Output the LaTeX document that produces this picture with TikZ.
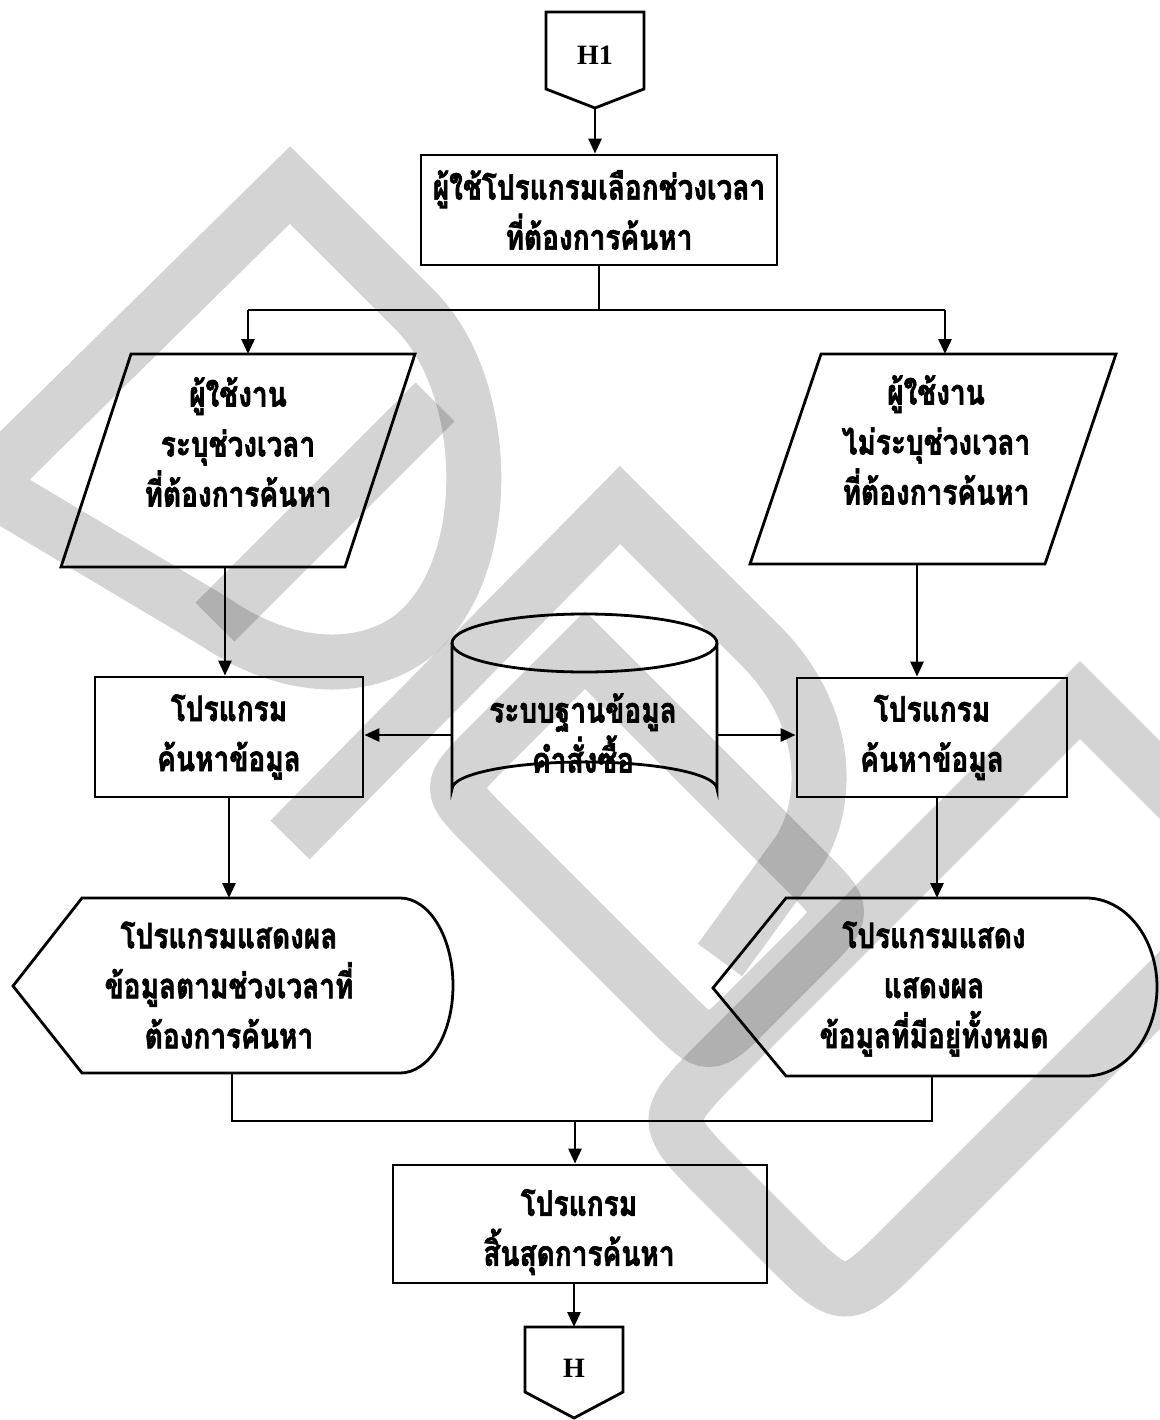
\documentclass[tikz,border=0pt]{standalone}
\usepackage{fontspec}
\setmainfont{Liberation Serif}
\newfontfamily\thai[Script=Thai, FakeStretch=0.8, BoldFeatures={FakeBold=1.8}]{Loma}
\usetikzlibrary{arrows.meta,calc}

\begin{document}
\begin{tikzpicture}[x=1pt,y=-1pt,
  line width=2.8pt,
  flow/.style={-{Triangle[length=15pt,width=13pt]}},
  txt/.style={font=\thai\bfseries\fontsize{35}{50}\selectfont, align=center, inner sep=0pt},
  boxed/.style={draw, rectangle, inner sep=0pt},
  wm/.style={line width=55pt, draw=black, draw opacity=0.17, line join=miter, line cap=butt}
]
\useasboundingbox (0,0) rectangle (1159,1420);

% ---- gray background bands ----
\draw[wm] (-15,485) -- (290,185) -- (415,310)
  .. controls (490,385) and (495,560) .. (420,630)
  .. controls (380,668) and (300,680) .. (215,622) -- cycle;
\draw[wm] (215,622) -- (435,402);
\draw[wm] (290,840) -- (620,505) -- (760,645)
  .. controls (830,715) and (830,800) .. (800,850) -- (720,960);
\draw[wm] (585,650) -- (805,870) .. controls (847,912) .. (805,954)
  -- (751,1008) .. controls (709,1050) .. (667,1008)
  -- (489,830) .. controls (447,788) .. (489,746) -- cycle;
\draw[wm] (1215,835) -- (1080,700) -- (724,1056) .. controls (660,1120) .. (724,1184)
  -- (781,1241) .. controls (845,1305) .. (909,1241) -- (1215,935);

% ---- off-page connector H1 ----
\draw (546,12) -- (644,12) -- (644,89) -- (595,108) -- (546,89) -- cycle;
\node[font=\bfseries\fontsize{28}{30}\selectfont] (h1) at (595,55) {H1};
\coordinate (h1tip) at (595,108);

% ---- first process ----
\node[boxed, minimum width=356pt, minimum height=110pt] (pick) at (599,210) {};
\node[txt] at (pick.center) {ผู้ใช้โปรแกรมเลือกช่วงเวลา\\ที่ต้องการค้นหา};

% ---- input parallelograms ----
\draw (131,354) -- (415,354) -- (345,567) -- (61,567) -- cycle;
\node[txt] (inL) at (238,442) {ผู้ใช้งาน\\ระบุช่วงเวลา\\ที่ต้องการค้นหา};
\coordinate (inLtop) at (248,354);
\coordinate (inLbot) at (225,567);

\draw (821,354) -- (1116,354) -- (1045,564) -- (750,564) -- cycle;
\node[txt] (inR) at (936,440) {ผู้ใช้งาน\\ไม่ระบุช่วงเวลา\\ที่ต้องการค้นหา};
\coordinate (inRtop) at (945,354);
\coordinate (inRbot) at (917,564);

% ---- search processes ----
\node[boxed, minimum width=268pt, minimum height=120pt] (srchL) at (229,737) {};
\node[txt] at (srchL.center) {โปรแกรม\\ค้นหาข้อมูล};
\node[boxed, minimum width=270pt, minimum height=119pt] (srchR) at (932,737.5) {};
\node[txt] at (srchR.center) {โปรแกรม\\ค้นหาข้อมูล};

% ---- database cylinder ----
\draw (452,643) -- (452,789) arc[start angle=180,end angle=360,x radius=132.5,y radius=27] -- (717,643);
\draw (584.5,643) ellipse[x radius=132.5,y radius=29];
\node[minimum width=265pt, minimum height=150pt, inner sep=0pt] (db) at (584.5,733) {};
\node[txt] at (583,733) {ระบบฐานข้อมูล\\คำสั่งซื้อ};

% ---- display shapes ----
\draw (82,898) -- (400,898) arc[start angle=-90,end angle=90,x radius=53,y radius=87.5] -- (82,1073) -- (13,986) -- cycle;
\node[txt] (outL) at (229,985) {โปรแกรมแสดงผล\\ข้อมูลตามช่วงเวลาที่\\ต้องการค้นหา};
\coordinate (outLtop) at (229,898);
\coordinate (outLbot) at (232,1073);

\draw (786,898) -- (1086,898) arc[start angle=-90,end angle=90,x radius=71,y radius=89] -- (786,1076) -- (713,988) -- cycle;
\node[txt] (outR) at (934,989) {โปรแกรมแสดง\\แสดงผล\\ข้อมูลที่มีอยู่ทั้งหมด};
\coordinate (outRtop) at (937,898);
\coordinate (outRbot) at (932,1076);

% ---- end process ----
\node[boxed, minimum width=374pt, minimum height=118pt] (finish) at (580,1224) {};
\node[txt] at (579,1232) {โปรแกรม\\สิ้นสุดการค้นหา};

% ---- off-page connector H ----
\draw (525,1327) -- (623,1327) -- (623,1392) -- (574,1418) -- (525,1392) -- cycle;
\node[font=\bfseries\fontsize{28}{30}\selectfont] (hend) at (574,1368) {H};
\coordinate (hendtop) at (574,1327);

% ---- connectors ----
\draw[flow] (h1tip) -- (h1tip |- pick.north);
\coordinate (split) at (pick.south |- 0,310);
\draw (pick.south) -- (split);
\draw (inLtop |- split) -- (inRtop |- split);
\draw[flow] (inLtop |- split) -- (inLtop);
\draw[flow] (inRtop |- split) -- (inRtop);
\draw[flow] (inLbot) -- (inLbot |- srchL.north);
\draw[flow] (inRbot) -- (inRbot |- srchR.north);
\draw[flow] (db.west |- 0,735) -- (srchL.east |- 0,735);
\draw[flow] (db.east |- 0,735) -- (srchR.west |- 0,735);
\draw[flow] (srchL.south -| outLtop) -- (outLtop);
\draw[flow] (srchR.south -| outRtop) -- (outRtop);
\coordinate (join) at (575,1121);
\draw (outLbot) -- (outLbot |- join) -- (outRbot |- join) -- (outRbot);
\draw[flow] (join) -- (join |- finish.north);
\draw[flow] (finish.south -| hendtop) -- (hendtop);
\end{tikzpicture}
\end{document}
